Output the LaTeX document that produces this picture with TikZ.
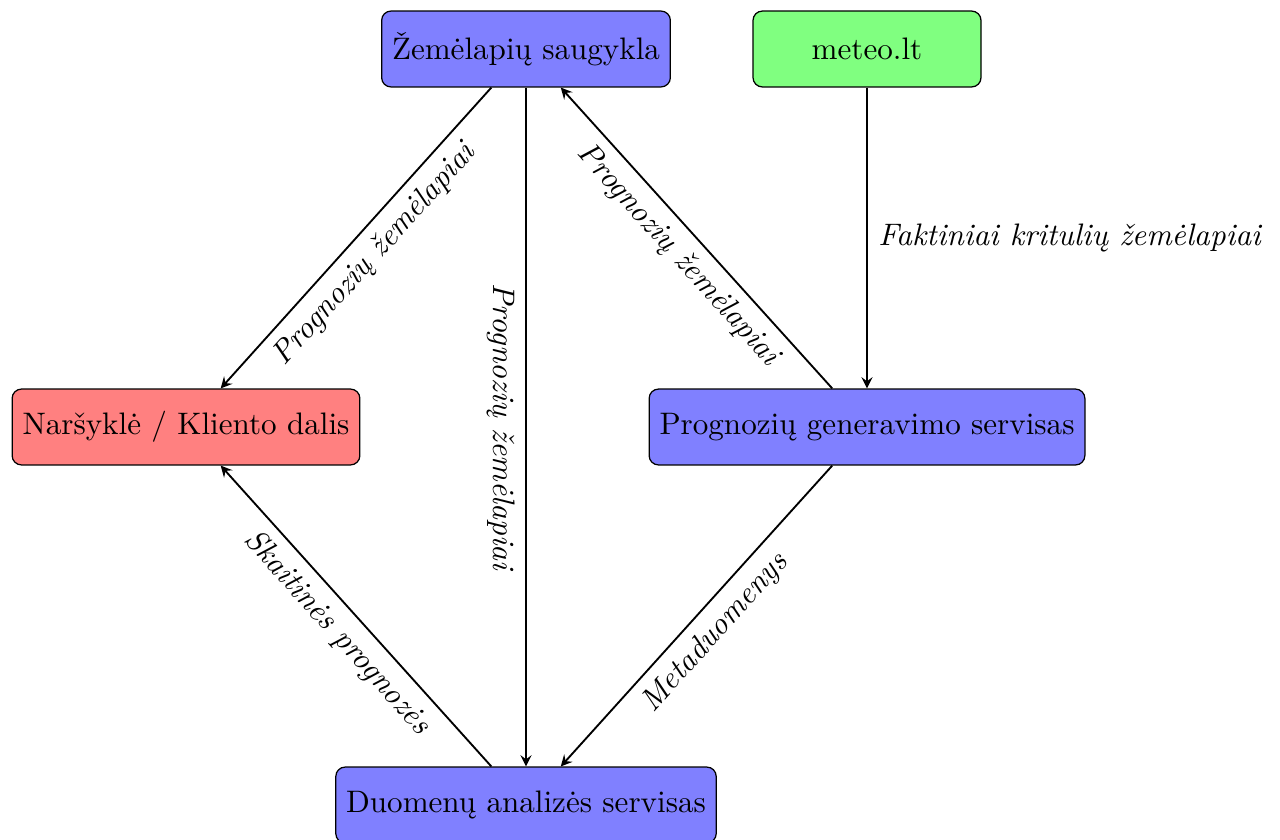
\documentclass[tikz,border=0pt]{standalone}
\usepackage{fontspec}
\usetikzlibrary{arrows}
\begin{document}
\begin{tikzpicture}[x=0.32154pt,y=-0.32154pt,
  box/.style={draw, rounded corners=3pt, minimum width=73.3pt, minimum height=24.4pt, inner sep=3.33pt},
  conn/.style={->, >=stealth, semithick},
  lbl/.style={font=\itshape, sloped, below}]
\useasboundingbox (0,0) rectangle (1280,839);
\node[box, fill=blue!50] (Z) at (526,49) {Žemėlapių saugykla};
\node[box, fill=green!50] (M) at (867,49) {meteo.lt};
\node[box, fill=red!50] (N) at (186,427) {Naršyklė / Kliento dalis};
\node[box, fill=blue!50] (P) at (867,427) {Prognozių generavimo servisas};
\node[box, fill=blue!50] (D) at (526,805) {Duomenų analizės servisas};
\draw[conn] (Z) -- node[lbl] {Prognozių žemėlapiai} (N);
\draw[conn] (Z) -- node[font=\itshape, rotate=-90, anchor=north] {Prognozių žemėlapiai} (D);
\draw[conn] (P) -- node[lbl] {Prognozių žemėlapiai} (Z);
\draw[conn] (D) -- node[lbl] {Skaitinės prognozės} (N);
\draw[conn] (P) -- node[lbl] {Metaduomenys} (D);
\draw[conn] (M) -- node[right, font=\itshape] {Faktiniai kritulių žemėlapiai} (P);
\end{tikzpicture}
\end{document}
